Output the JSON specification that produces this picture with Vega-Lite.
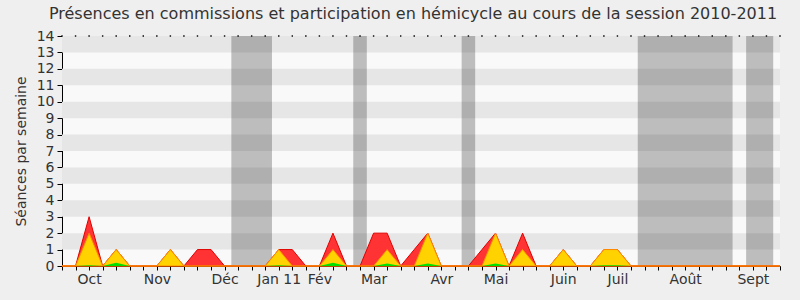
{
  "$schema": "https://vega.github.io/schema/vega-lite/v6.json",
  "width": 718,
  "height": 230,
  "autosize": "none",
  "padding": {"left": 62, "top": 36, "right": 20, "bottom": 34},
  "background": "#efefef",
  "title": {"text": "Présences en commissions et participation en hémicycle au cours de la session 2010-2011", "fontSize": 16, "font": "DejaVu Sans", "fontWeight": "normal", "color": "#333333", "frame": "group", "anchor": "middle", "baseline": "alphabetic", "offset": -6, "dx": -8},
  "config": {
    "font": "DejaVu Sans",
    "view": {"stroke": null, "fill": "#f9f9f9"},
    "axis": {"grid": false, "labelFontSize": 14, "labelColor": "#333333", "tickColor": "#000000", "domainColor": "#000000", "labelOverlap": false, "titleFontSize": 14, "titleFontWeight": "normal", "titleColor": "#333333", "zindex": 1},
    "axisX": {"tickSize": 4, "labelPadding": 2, "labelFlush": false},
    "axisY": {"tickSize": 5, "labelPadding": 3, "titlePadding": 8}
  },
  "datasets": {
    "stripes": [{"a":1,"b":2},{"a":3,"b":4},{"a":5,"b":6},{"a":7,"b":8},{"a":9,"b":10},{"a":11,"b":12},{"a":13,"b":14}],
    "bands": [{"s":12.5,"e":15.5},{"s":21.5,"e":22.5},{"s":29.5,"e":30.5},{"s":42.5,"e":49.5},{"s":50.5,"e":52.5}],
    "weeks": [
      {"w":0,"r":0,"y":0,"g":0},{"w":1,"r":0,"y":0,"g":0},{"w":2,"r":3,"y":2,"g":0.05},{"w":3,"r":0,"y":0,"g":0},
      {"w":4,"r":1,"y":1,"g":0.2},{"w":5,"r":0,"y":0,"g":0},{"w":6,"r":0,"y":0,"g":0},{"w":7,"r":0,"y":0,"g":0},
      {"w":8,"r":1,"y":1,"g":0},{"w":9,"r":0,"y":0,"g":0},{"w":10,"r":1,"y":0,"g":0},{"w":11,"r":1,"y":0,"g":0},
      {"w":12,"r":0,"y":0,"g":0},{"w":13,"r":0,"y":0,"g":0},{"w":14,"r":0,"y":0,"g":0},{"w":15,"r":0,"y":0,"g":0},
      {"w":16,"r":1,"y":1,"g":0.05},{"w":17,"r":1,"y":0,"g":0},{"w":18,"r":0,"y":0,"g":0},{"w":19,"r":0,"y":0,"g":0},
      {"w":20,"r":2,"y":1,"g":0.2},{"w":21,"r":0,"y":0,"g":0},{"w":22,"r":0,"y":0,"g":0},{"w":23,"r":2,"y":0,"g":0},
      {"w":24,"r":2,"y":1,"g":0.15},{"w":25,"r":0,"y":0,"g":0},{"w":26,"r":1,"y":0,"g":0},{"w":27,"r":2,"y":2,"g":0.15},
      {"w":28,"r":0,"y":0,"g":0},{"w":29,"r":0,"y":0,"g":0},{"w":30,"r":0,"y":0,"g":0},{"w":31,"r":1,"y":0,"g":0},
      {"w":32,"r":2,"y":2,"g":0.15},{"w":33,"r":0,"y":0,"g":0},{"w":34,"r":2,"y":1,"g":0},{"w":35,"r":0,"y":0,"g":0},
      {"w":36,"r":0,"y":0,"g":0},{"w":37,"r":1,"y":1,"g":0},{"w":38,"r":0,"y":0,"g":0},{"w":39,"r":0,"y":0,"g":0},
      {"w":40,"r":1,"y":1,"g":0.05},{"w":41,"r":1,"y":1,"g":0.05},{"w":42,"r":0,"y":0,"g":0},{"w":43,"r":0,"y":0,"g":0},
      {"w":44,"r":0,"y":0,"g":0},{"w":45,"r":0,"y":0,"g":0},{"w":46,"r":0,"y":0,"g":0},{"w":47,"r":0,"y":0,"g":0},
      {"w":48,"r":0,"y":0,"g":0},{"w":49,"r":0,"y":0,"g":0},{"w":50,"r":0,"y":0,"g":0},{"w":51,"r":0,"y":0,"g":0},
      {"w":52,"r":0,"y":0,"g":0},{"w":53,"r":0,"y":0,"g":0}
    ]
  },
  "layer": [
    {
      "data": {"name": "stripes"},
      "mark": {"type": "rect", "color": "#e6e6e6"},
      "encoding": {
        "x": {"datum": 0, "type": "quantitative", "scale": {"domain": [0, 53], "nice": false, "zero": false}, "axis": {"title": null, "labelOverlap": false, "values": [0,1,2,3,4,5,6,7,8,9,10,11,12,13,14,15,16,17,18,19,20,21,22,23,24,25,26,27,28,29,30,31,32,33,34,35,36,37,38,39,40,41,42,43,44,45,46,47,48,49,50,51,52,53], "labelExpr": "datum.value==2?'Oct':datum.value==7?'Nov':datum.value==12?'Déc':datum.value==16?'Jan 11':datum.value==19?'Fév':datum.value==23?'Mar':datum.value==28?'Avr':datum.value==32?'Mai':datum.value==37?'Juin':datum.value==41?'Juil':datum.value==46?'Août':datum.value==51?'Sept':''"}},
        "x2": {"datum": 53},
        "y": {"field": "a", "type": "quantitative", "scale": {"domain": [0, 14], "nice": false}, "axis": {"title": "Séances par semaine", "labelOverlap": false, "values": [0,1,2,3,4,5,6,7,8,9,10,11,12,13,14]}},
        "y2": {"field": "b"}
      }
    },
    {
      "data": {"name": "bands"},
      "mark": {"type": "rect", "color": "#000000", "opacity": 0.24},
      "encoding": {
        "x": {"field": "s", "type": "quantitative", "axis": {"title": null, "labelOverlap": false, "values": [0,1,2,3,4,5,6,7,8,9,10,11,12,13,14,15,16,17,18,19,20,21,22,23,24,25,26,27,28,29,30,31,32,33,34,35,36,37,38,39,40,41,42,43,44,45,46,47,48,49,50,51,52,53], "labelExpr": "datum.value==2?'Oct':datum.value==7?'Nov':datum.value==12?'Déc':datum.value==16?'Jan 11':datum.value==19?'Fév':datum.value==23?'Mar':datum.value==28?'Avr':datum.value==32?'Mai':datum.value==37?'Juin':datum.value==41?'Juil':datum.value==46?'Août':datum.value==51?'Sept':''"}},
        "x2": {"field": "e"},
        "y": {"datum": 0, "type": "quantitative", "axis": {"title": "Séances par semaine", "labelOverlap": false, "values": [0,1,2,3,4,5,6,7,8,9,10,11,12,13,14]}},
        "y2": {"datum": 14}
      }
    },
    {
      "data": {"name": "weeks"},
      "mark": {"type": "area", "color": "#ff3333", "stroke": "#e00000", "strokeWidth": 1, "opacity": 1},
      "encoding": {
        "x": {"field": "w", "type": "quantitative", "axis": {"title": null, "labelOverlap": false, "values": [0,1,2,3,4,5,6,7,8,9,10,11,12,13,14,15,16,17,18,19,20,21,22,23,24,25,26,27,28,29,30,31,32,33,34,35,36,37,38,39,40,41,42,43,44,45,46,47,48,49,50,51,52,53], "labelExpr": "datum.value==2?'Oct':datum.value==7?'Nov':datum.value==12?'Déc':datum.value==16?'Jan 11':datum.value==19?'Fév':datum.value==23?'Mar':datum.value==28?'Avr':datum.value==32?'Mai':datum.value==37?'Juin':datum.value==41?'Juil':datum.value==46?'Août':datum.value==51?'Sept':''"}},
        "y": {"field": "r", "type": "quantitative", "axis": {"title": "Séances par semaine", "labelOverlap": false, "values": [0,1,2,3,4,5,6,7,8,9,10,11,12,13,14]}}
      }
    },
    {
      "data": {"name": "weeks"},
      "mark": {"type": "area", "color": "#ffd200", "stroke": "#ff8c00", "strokeWidth": 1, "opacity": 1},
      "encoding": {
        "x": {"field": "w", "type": "quantitative", "axis": {"title": null, "labelOverlap": false, "values": [0,1,2,3,4,5,6,7,8,9,10,11,12,13,14,15,16,17,18,19,20,21,22,23,24,25,26,27,28,29,30,31,32,33,34,35,36,37,38,39,40,41,42,43,44,45,46,47,48,49,50,51,52,53], "labelExpr": "datum.value==2?'Oct':datum.value==7?'Nov':datum.value==12?'Déc':datum.value==16?'Jan 11':datum.value==19?'Fév':datum.value==23?'Mar':datum.value==28?'Avr':datum.value==32?'Mai':datum.value==37?'Juin':datum.value==41?'Juil':datum.value==46?'Août':datum.value==51?'Sept':''"}},
        "y": {"field": "y", "type": "quantitative", "axis": {"title": "Séances par semaine", "labelOverlap": false, "values": [0,1,2,3,4,5,6,7,8,9,10,11,12,13,14]}}
      }
    },
    {
      "data": {"name": "weeks"},
      "mark": {"type": "area", "color": "#00e000", "opacity": 1},
      "encoding": {
        "x": {"field": "w", "type": "quantitative", "axis": {"title": null, "labelOverlap": false, "values": [0,1,2,3,4,5,6,7,8,9,10,11,12,13,14,15,16,17,18,19,20,21,22,23,24,25,26,27,28,29,30,31,32,33,34,35,36,37,38,39,40,41,42,43,44,45,46,47,48,49,50,51,52,53], "labelExpr": "datum.value==2?'Oct':datum.value==7?'Nov':datum.value==12?'Déc':datum.value==16?'Jan 11':datum.value==19?'Fév':datum.value==23?'Mar':datum.value==28?'Avr':datum.value==32?'Mai':datum.value==37?'Juin':datum.value==41?'Juil':datum.value==46?'Août':datum.value==51?'Sept':''"}},
        "y": {"field": "g", "type": "quantitative", "axis": {"title": "Séances par semaine", "labelOverlap": false, "values": [0,1,2,3,4,5,6,7,8,9,10,11,12,13,14]}}
      }
    },
    {
      "data": {"name": "weeks"},
      "mark": {"type": "point", "shape": "square", "size": 2, "filled": true, "color": "#000000", "opacity": 1},
      "encoding": {
        "x": {"field": "w", "type": "quantitative", "axis": {"title": null, "labelOverlap": false, "values": [0,1,2,3,4,5,6,7,8,9,10,11,12,13,14,15,16,17,18,19,20,21,22,23,24,25,26,27,28,29,30,31,32,33,34,35,36,37,38,39,40,41,42,43,44,45,46,47,48,49,50,51,52,53], "labelExpr": "datum.value==2?'Oct':datum.value==7?'Nov':datum.value==12?'Déc':datum.value==16?'Jan 11':datum.value==19?'Fév':datum.value==23?'Mar':datum.value==28?'Avr':datum.value==32?'Mai':datum.value==37?'Juin':datum.value==41?'Juil':datum.value==46?'Août':datum.value==51?'Sept':''"}},
        "y": {"datum": 14, "type": "quantitative", "axis": {"title": "Séances par semaine", "labelOverlap": false, "values": [0,1,2,3,4,5,6,7,8,9,10,11,12,13,14]}}
      }
    }
  ]
}
